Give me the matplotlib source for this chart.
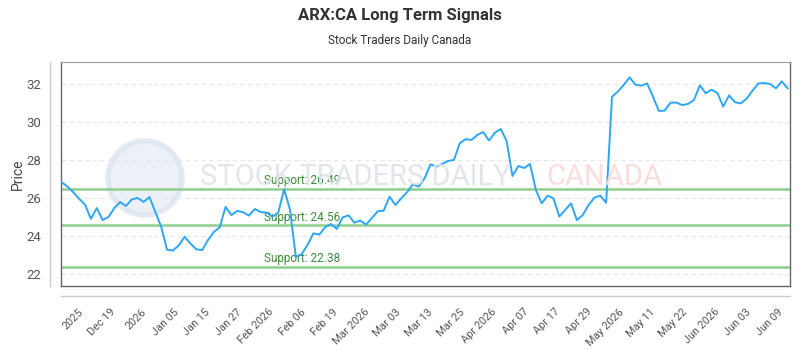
import matplotlib
matplotlib.use("Agg")
import matplotlib.pyplot as plt
from matplotlib.lines import Line2D
from matplotlib.patches import Circle
import matplotlib.transforms as mtransforms
import numpy as np

plt.rcParams["font.family"] = ["Roboto", "DejaVu Sans"]

# Closing prices (one point per trading day).
prices = [
    26.83, 26.60, 26.30, 25.95, 25.65, 24.90, 25.47, 24.84, 25.00, 25.47,
    25.79, 25.58, 25.93, 26.00, 25.79, 26.05, 25.27, 24.49, 23.28, 23.23,
    23.50, 23.96, 23.60, 23.30, 23.26, 23.79, 24.21, 24.46, 25.53, 25.10,
    25.32, 25.25, 25.07, 25.42, 25.26, 25.23, 25.02, 25.23, 26.46, 25.40,
    22.90, 23.05, 23.53, 24.14, 24.07, 24.46, 24.63, 24.37, 24.98, 25.09,
    24.70, 24.81, 24.60, 24.95, 25.30, 25.33, 26.07, 25.63, 25.98, 26.30,
    26.72, 26.60, 27.04, 27.77, 27.65, 27.79, 27.95, 28.00, 28.88, 29.10,
    29.05, 29.32, 29.47, 29.02, 29.44, 29.63, 29.00, 27.16, 27.68, 27.58,
    27.79, 26.42, 25.72, 26.12, 25.98, 25.02, 25.37, 25.72, 24.84, 25.10,
    25.63, 26.02, 26.12, 25.75, 31.33, 31.60, 31.95, 32.35, 31.96, 31.91,
    32.03, 31.33, 30.58, 30.60, 31.02, 31.02, 30.89, 30.95, 31.16, 31.93,
    31.51, 31.70, 31.53, 30.81, 31.40, 31.04, 30.98, 31.23, 31.65, 32.03,
    32.05, 32.00, 31.77, 32.14, 31.77,
]

supports = [26.49, 24.56, 22.38]

tick_labels = [
    "2025", "Dec 19", "2026", "Jan 05", "Jan 15", "Jan 27", "Feb 2026",
    "Feb 06", "Feb 19", "Mar 2026", "Mar 03", "Mar 13", "Mar 25",
    "Apr 2026", "Apr 07", "Apr 17", "Apr 29", "May 2026", "May 11",
    "May 22", "Jun 2026", "Jun 03", "Jun 09",
]


def main():
    n = len(prices)
    x = np.arange(n)

    fig = plt.figure(figsize=(8, 3.5), dpi=100)
    ax = fig.add_axes([0.0763, 0.183, 0.9112, 0.640])

    # Watermark.
    fig.add_artist(Circle((1.45, 1.72), 0.37, transform=fig.dpi_scale_trans,
                          facecolor="#e8eef6", edgecolor="#dde5ef", lw=4,
                          alpha=0.8, zorder=0))
    fig.text(0.25, 0.495, "STOCK TRADERS DAILY", fontsize=21, color="#dfe4ea",
             ha="left", va="center", alpha=0.9, zorder=0)
    fig.text(0.683, 0.495, "CANADA", fontsize=21, color="#fbdada",
             ha="left", va="center", alpha=0.9, zorder=0)
    ax.set_facecolor("none")

    for level in supports:
        ax.axhline(level, color="#8fce8f", lw=1.8, zorder=2)
        ax.text(0.278, level + 0.08, "Support: %.2f" % level,
                transform=mtransforms.blended_transform_factory(ax.transAxes, ax.transData),
                color="#3a8a3a", fontsize=8.5, ha="left", va="bottom", zorder=3)

    ax.plot(x, prices, color="#2ea6f7", lw=1.4, zorder=4)

    ax.set_xlim(-0.1, n - 1 + 0.4)
    ax.set_ylim(21.37, 33.16)
    ax.set_yticks([22, 24, 26, 28, 30, 32])
    ax.yaxis.grid(True, color="#e6e6e6", ls=(0, (4, 3)), lw=0.8)
    ax.set_axisbelow(True)

    tick_pos = np.linspace(2.76, 122.3, len(tick_labels))
    ax.set_xticks(tick_pos)
    ax.set_xticklabels(tick_labels, rotation=45, ha="right",
                       rotation_mode="anchor", fontsize=7.8, color="#555555")
    ax.tick_params(axis="x", length=0, pad=15)
    ax.tick_params(axis="y", length=0, labelsize=9.5, labelcolor="#555555", pad=14)
    ax.set_ylabel("Price", fontsize=10, color="#444444", labelpad=1)

    for side in ["left", "bottom", "right"]:
        ax.spines[side].set_color("#666666")
        ax.spines[side].set_linewidth(1.0)
    ax.spines["top"].set_color("#999999")

    # Detached axis lines.
    fig.add_artist(Line2D([50 / 800, 50 / 800], [1 - 286 / 350, 1 - 62 / 350],
                          color="#cccccc", lw=1))
    fig.add_artist(Line2D([61 / 800, 790 / 800], [1 - 296 / 350, 1 - 296 / 350],
                          color="#cccccc", lw=1))

    fig.text(0.5, 0.955, "ARX:CA Long Term Signals", ha="center", va="center",
             fontsize=12, fontweight="bold", color="#333333")
    fig.text(0.5, 0.885, "Stock Traders Daily Canada", ha="center", va="center",
             fontsize=8.5, color="#333333")

    fig.savefig("out.png", dpi=100)


if __name__ == "__main__":
    main()
